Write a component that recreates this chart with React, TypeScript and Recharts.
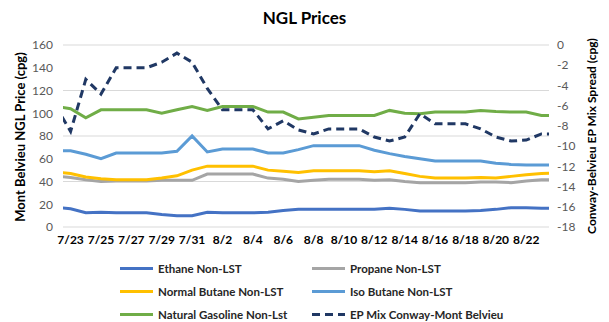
import React from "react";
import { CartesianGrid, Line, LineChart, XAxis, YAxis } from "recharts";

// one entry per day, 7/22 and 8/24 sit just outside the visible axis and get clipped
const dates = [
  "7/22", "7/23", "7/24", "7/25", "7/26", "7/27", "7/28", "7/29", "7/30", "7/31",
  "8/1", "8/2", "8/3", "8/4", "8/5", "8/6", "8/7", "8/8", "8/9", "8/10",
  "8/11", "8/12", "8/13", "8/14", "8/15", "8/16", "8/17", "8/18", "8/19", "8/20",
  "8/21", "8/22", "8/23", "8/24",
];

const ethane = [17.5, 16, 12.5, 13, 12.5, 12.5, 12.5, 11, 10, 10, 13, 12.5, 12.5, 12.5, 13, 14.5, 15.5, 15.5, 15.5, 15.5, 15.5, 15.5, 16.5, 15.5, 14, 14, 14, 14, 14.5, 15.5, 17, 17, 16.5, 16.5];
const propane = [45, 43.5, 41.5, 40, 40.5, 40.5, 40.5, 41, 41, 41, 46.5, 46.5, 46.5, 46.5, 43, 42, 40, 41, 42, 42, 42, 41, 41.5, 40, 39, 39, 39, 39, 39.5, 39.5, 39, 40.5, 41.5, 41.5];
const normalButane = [48.5, 47, 44, 42.5, 41.5, 41.5, 41.5, 43, 45, 50, 53.5, 53.5, 53.5, 53.5, 50, 49, 48, 49.5, 49.5, 49.5, 49.5, 48.5, 49.5, 47, 44.5, 43, 43, 43, 43.5, 43, 44.5, 46, 47, 47.5];
const isoButane = [67, 67, 64, 60, 65, 65, 65, 65, 66.5, 80, 66, 68.5, 68.5, 68.5, 65, 65, 68, 71.5, 71.5, 71.5, 71.5, 67.5, 64.5, 62, 60, 58, 58, 58, 58, 56, 55, 54.5, 54.5, 54.5];
const gasoline = [106, 104, 96, 103, 103, 103, 103, 100, 103, 106, 102.5, 106, 106, 106, 101, 101, 95, 96.5, 98, 98, 98, 98, 102.5, 100, 99.5, 101, 101, 101, 102.5, 101.5, 101, 101, 98, 98];
const epSpread = [-6.0, -8.55, -3.4, -4.85, -2.25, -2.25, -2.25, -1.7, -0.8, -1.7, -4.3, -6.4, -6.4, -6.4, -8.3, -7.5, -8.4, -8.8, -8.3, -8.3, -8.3, -9.1, -9.5, -9.1, -6.8, -7.8, -7.8, -7.8, -8.3, -9.1, -9.5, -9.4, -8.8, -8.8];

const xTicks = [0, 2, 4, 6, 8, 10, 12, 14, 16, 18, 20, 22, 24, 26, 28, 30];
const leftTicks = [0, 20, 40, 60, 80, 100, 120, 140, 160];
const rightTicks = [-18, -16, -14, -12, -10, -8, -6, -4, -2, 0];

const series = [
  { key: "ethane", name: "Ethane Non-LST", color: "#4472C4", axis: "left", dash: undefined },
  { key: "propane", name: "Propane Non-LST", color: "#A5A5A5", axis: "left", dash: undefined },
  { key: "normalButane", name: "Normal Butane Non-LST", color: "#FFC000", axis: "left", dash: undefined },
  { key: "isoButane", name: "Iso Butane Non-LST", color: "#5B9BD5", axis: "left", dash: undefined },
  { key: "gasoline", name: "Natural Gasoline Non-Lst", color: "#70AD47", axis: "left", dash: undefined },
  { key: "epSpread", name: "EP Mix Conway-Mont Belvieu", color: "#203864", axis: "right", dash: "8 5" },
];

const data = dates.map((date, i) => ({
  x: i - 1,
  date,
  ethane: ethane[i],
  propane: propane[i],
  normalButane: normalButane[i],
  isoButane: isoButane[i],
  gasoline: gasoline[i],
  epSpread: epSpread[i],
}));

const font = "Lato, 'Noto Sans', sans-serif";

export default function App() {
  return (
    <div style={{ position: "fixed", left: 0, top: 0, width: 609, height: 322, background: "#fff", fontFamily: font }}>
      <div style={{ position: "absolute", top: 7, left: 0, width: 609, textAlign: "center", fontSize: 17, fontWeight: 700, color: "#000" }}>
        NGL Prices
      </div>
      <LineChart width={609} height={322} data={data} margin={{ top: 45, left: 30, right: 30, bottom: 65 }}>
        <CartesianGrid vertical={false} stroke="#D9D9D9" yAxisId="left" />
        <XAxis
          dataKey="x"
          type="number"
          domain={[-0.5, 31.5]}
          allowDataOverflow
          ticks={xTicks}
          tickFormatter={(v) => dates[v + 1]}
          axisLine={false}
          tickLine={false}
          interval={0}
          height={30}
          tick={{ fill: "#000", fontSize: 12, fontWeight: 700, fontFamily: font }}
        />
        <YAxis
          yAxisId="left"
          domain={[0, 160]}
          ticks={leftTicks}
          width={33}
          axisLine={false}
          tickLine={false}
          tickMargin={4}
          tick={{ fill: "#595959", fontSize: 12, fontFamily: font }}
        />
        <YAxis
          yAxisId="right"
          orientation="right"
          domain={[-18, 0]}
          ticks={rightTicks}
          width={30}
          axisLine={false}
          tickLine={false}
          tickMargin={2}
          tick={{ fill: "#595959", fontSize: 12, fontFamily: font }}
        />
        {series.map((s) => (
          <Line
            key={s.key}
            yAxisId={s.axis}
            dataKey={s.key}
            name={s.name}
            stroke={s.color}
            strokeWidth={3}
            strokeDasharray={s.dash}
            dot={false}
            activeDot={false}
            type="linear"
            isAnimationActive={false}
          />
        ))}
      </LineChart>
      <div style={{ position: "absolute", left: 20, top: 137, transform: "translate(-50%, -50%) rotate(-90deg)", whiteSpace: "nowrap", fontSize: 13, fontWeight: 700, color: "#000" }}>
        Mont Belvieu NGL Price (cpg)
      </div>
      <div style={{ position: "absolute", left: 591, top: 136, transform: "translate(-50%, -50%) rotate(-90deg)", whiteSpace: "nowrap", fontSize: 12, fontWeight: 700, color: "#000" }}>
        Conway-Belvieu EP Mix Spread (cpg)
      </div>
      {series.map((s, i) => {
        const col = i % 2;
        const row = Math.floor(i / 2);
        return (
          <div
            key={s.key}
            style={{ position: "absolute", left: col === 0 ? 120 : 312, top: 268 + row * 23, transform: "translateY(-50%)", display: "flex", alignItems: "center", gap: 5, fontSize: 11.5, fontWeight: 700, color: "#262626", whiteSpace: "nowrap" }}
          >
            <svg width={33} height={4}>
              <line x1={0} y1={2} x2={33} y2={2} stroke={s.color} strokeWidth={3} strokeDasharray={s.dash} />
            </svg>
            {s.name}
          </div>
        );
      })}
    </div>
  );
}
